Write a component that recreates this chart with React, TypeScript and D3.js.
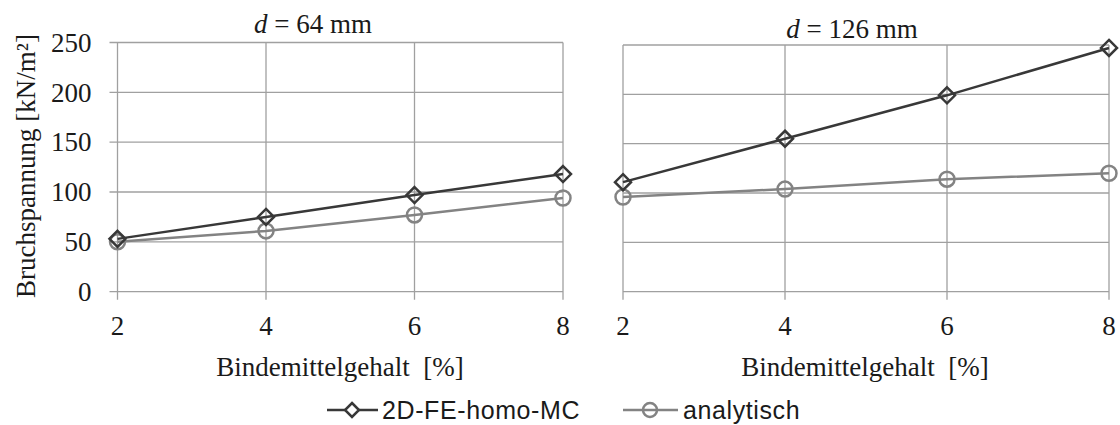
import React from "react";
import * as d3 from "d3";

const xValues = [2, 4, 6, 8];
const yTicks = [0, 50, 100, 150, 200, 250];
const leftFE = [53, 75, 97, 118];
const leftAna = [50, 61, 77, 94];
const rightFE = [111, 155, 199, 247];
const rightAna = [96, 104, 114, 120];
const seriesNames = ["2D-FE-homo-MC", "analytisch"];
const panelTitles = ["64 mm", "126 mm"];
const xTitle = "Bindemittelgehalt  [%]";
const yTitle = "Bruchspannung [kN/m²]";

const DARK = "#383838";
const LIGHT = "#838383";
const GRID = "#a0a0a0";
const TEXT = "#1a1a1a";
const SERIF = "'Liberation Serif', 'Times New Roman', serif";
const SANS = "'Liberation Sans', Arial, sans-serif";
const FS = 27;

function diamond(cx: number, cy: number, r: number) {
  return `M${cx},${cy - r}L${cx + r},${cy}L${cx},${cy + r}L${cx - r},${cy}Z`;
}

type PanelProps = {
  x0: number; x1: number; yTop: number; yBottom: number;
  fe: number[]; ana: number[]; title: string; showY: boolean;
  titleX: number; titleY: number; xTitleX: number;
};

function Panel({ x0, x1, yTop, yBottom, fe, ana, title, showY, titleX, titleY, xTitleX }: PanelProps) {
  const x = d3.scaleLinear().domain([2, 8]).range([x0, x1]);
  const y = d3.scaleLinear().domain([0, 250]).range([yBottom, yTop]);
  const line = d3.line<number>().x((_, i) => x(xValues[i])).y((v) => y(v));
  return (
    <g>
      {yTicks.map((t) => (
        <line key={"h" + t} x1={showY ? x0 - 8 : x0} x2={x1} y1={y(t)} y2={y(t)} stroke={GRID} strokeWidth={1.3} />
      ))}
      {xValues.map((v) => (
        <line key={"v" + v} x1={x(v)} x2={x(v)} y1={yTop} y2={yBottom + 8} stroke={GRID} strokeWidth={1.3} />
      ))}
      {showY && yTicks.map((t) => (
        <text key={"yl" + t} x={x0 - 26} y={y(t)} dy="0.34em" textAnchor="end" fontFamily={SERIF} fontSize={FS} fill={TEXT}>{t}</text>
      ))}
      {xValues.map((v) => (
        <text key={"xl" + v} x={x(v)} y={335} textAnchor="middle" fontFamily={SERIF} fontSize={FS} fill={TEXT}>{v}</text>
      ))}
      <text x={xTitleX} y={376} textAnchor="middle" fontFamily={SERIF} fontSize={FS} fill={TEXT} style={{ whiteSpace: "pre" }}>{xTitle}</text>
      <text x={titleX} y={titleY} textAnchor="middle" fontFamily={SERIF} fontSize={FS} fill={TEXT} style={{ whiteSpace: "pre" }}>
        <tspan fontStyle="italic">d</tspan>
        <tspan>{" = " + title}</tspan>
      </text>
      <path d={line(ana) || ""} fill="none" stroke={LIGHT} strokeWidth={2.5} />
      {ana.map((v, i) => (
        <circle key={"c" + i} cx={x(xValues[i])} cy={y(v)} r={7.5} fill="none" stroke={LIGHT} strokeWidth={2.5} />
      ))}
      <path d={line(fe) || ""} fill="none" stroke={DARK} strokeWidth={2.5} />
      {fe.map((v, i) => (
        <path key={"d" + i} d={diamond(x(xValues[i]), y(v), 8)} fill="none" stroke={DARK} strokeWidth={2.5} />
      ))}
    </g>
  );
}

export default function App() {
  return (
    <svg width={1120} height={425} style={{ display: "block", position: "absolute", left: 0, top: 0 }}>
      <rect width={1120} height={425} fill="#ffffff" />
      <Panel x0={117.5} x1={563} yTop={42.5} yBottom={291.7} fe={leftFE} ana={leftAna} title={panelTitles[0]} showY={true} titleX={313} titleY={33} xTitleX={340} />
      <Panel x0={623} x1={1109} yTop={45} yBottom={291.7} fe={rightFE} ana={rightAna} title={panelTitles[1]} showY={false} titleX={852} titleY={38} xTitleX={865} />
      <text transform="translate(35,166) rotate(-90)" textAnchor="middle" fontFamily={SERIF} fontSize={FS} fill={TEXT}>{yTitle}</text>
      <g>
        <line x1={327} x2={378} y1={410} y2={410} stroke={DARK} strokeWidth={2.5} />
        <path d={diamond(352, 410, 7)} fill="#fff" stroke={DARK} strokeWidth={2.5} />
        <text x={382} y={410} dy="0.36em" fontFamily={SANS} fontSize={25} letterSpacing={0.6} fill={TEXT}>{seriesNames[0]}</text>
        <line x1={623} x2={678} y1={410} y2={410} stroke={LIGHT} strokeWidth={2.5} />
        <circle cx={650} cy={410} r={7} fill="none" stroke={LIGHT} strokeWidth={2.5} />
        <text x={683} y={410} dy="0.36em" fontFamily={SANS} fontSize={25} letterSpacing={0.6} fill={TEXT}>{seriesNames[1]}</text>
      </g>
    </svg>
  );
}
